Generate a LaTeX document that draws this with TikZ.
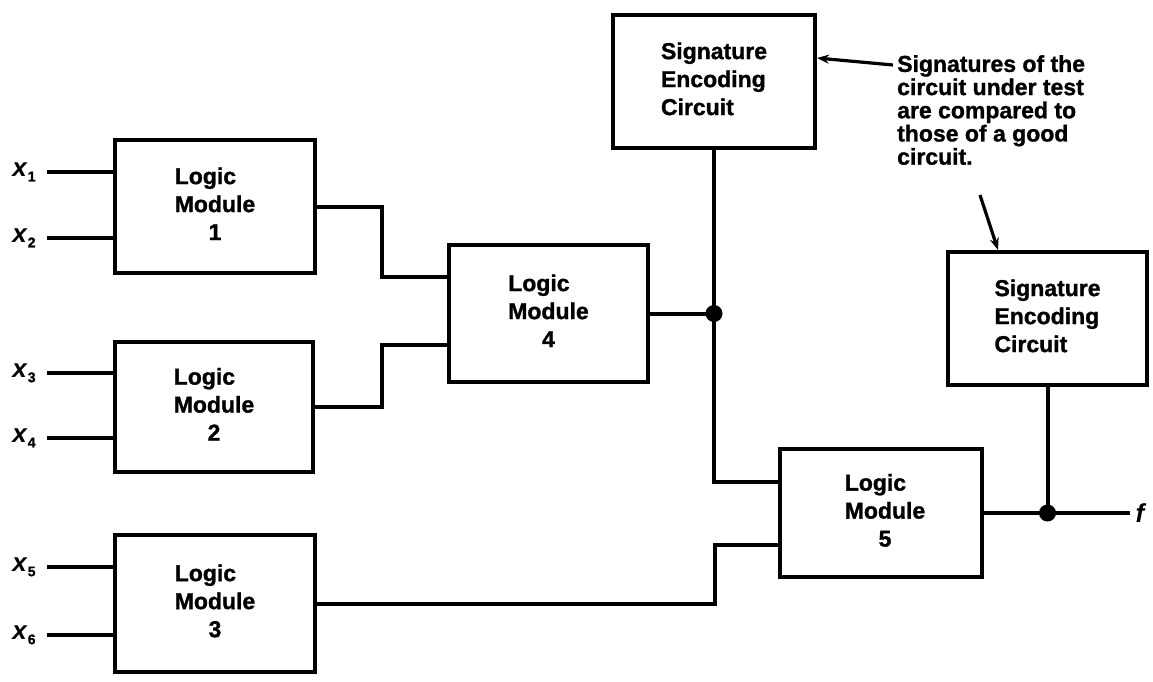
\documentclass[tikz,border=0pt]{standalone}
\usepackage{fontspec}
\setmainfont{Liberation Sans}[BoldFeatures={FakeBold=1.2}]
\usetikzlibrary{arrows.meta}
\newcommand\lmtext[1]{\begin{tabular}{@{}l@{}}Logic\\Module\\\multicolumn{1}{@{}c@{}}{#1}\end{tabular}}
\newcommand\sectext{\begin{tabular}{@{}l@{}}Signature\\Encoding\\Circuit\end{tabular}}
\newcommand\xin[1]{\textit{x}\raisebox{-0.35ex}{\fontsize{14}{14}\selectfont #1}}
\begin{document}
\begin{tikzpicture}[x=1pt,y=-1pt,
  blk/.style={draw,line width=4pt,inner sep=0pt,align=center,
    font=\fontsize{23}{28}\selectfont\bfseries},
  wire/.style={line width=4pt},
  arr/.style={line width=3.2pt,-{Stealth[length=12pt,width=9pt]}},
  lbl/.style={inner sep=0pt,font=\fontsize{26}{26}\selectfont\bfseries},
  note/.style={inner sep=0pt,align=left,font=\fontsize{23}{23.2}\selectfont\bfseries}]
\useasboundingbox (0,0) rectangle (1153,681);
\fill[white] (0,0) rectangle (1153,681);
% boxes
\node[blk,minimum width=200pt,minimum height=133pt] (lm1) at (215,206.5) {\lmtext{1}};
\node[blk,minimum width=198pt,minimum height=130pt] (lm2) at (214,407) {\lmtext{2}};
\node[blk,minimum width=200pt,minimum height=137pt] (lm3) at (215,603.5) {\lmtext{3}};
\node[blk,minimum width=199pt,minimum height=137pt] (lm4) at (548.5,313.5) {\lmtext{4}};
\node[blk,minimum width=202pt,minimum height=128pt] (lm5) at (881,513) {\hspace*{8pt}\lmtext{5}};
\node[blk,minimum width=202pt,minimum height=133pt] (sec1) at (714,81.5) {\sectext};
\node[blk,minimum width=199pt,minimum height=133pt] (sec2) at (1047.5,318.5) {\sectext};
% inputs
\foreach \i/\y/\b in {1/172/lm1,2/238/lm1,3/373/lm2,4/438/lm2,5/567/lm3,6/635/lm3}{
  \node[lbl] (lx\i) at (24,\y) {\xin{\i}};
  \coordinate (in\i) at (47,\y);
  \draw[wire] (in\i) -- (in\i -| \b.west);
}
% connections
\draw[wire] (lm1.east) -- ++(65,0) |- ([yshift=36.5pt]lm4.west);
\draw[wire] (lm2.east) -- ++(67,0) |- ([yshift=-31.5pt]lm4.west);
\coordinate (j1) at (sec1.south |- lm4.east);
\draw[wire] (lm4.east) -- (j1);
\draw[wire] (sec1.south) -- (j1) |- ([yshift=31pt]lm5.west);
\draw[wire] (lm3.east) -- ++(398,0) |- ([yshift=-32pt]lm5.west);
\coordinate (j2) at (sec2.south |- lm5.east);
\coordinate (fend) at (1130,513);
\draw[wire] (lm5.east) -- (j2) -- (fend);
\draw[wire] (sec2.south) -- (j2);
\fill (j1) circle (8.5pt);
\fill (j2) circle (8.5pt);
\node[lbl] (f) at (1141,513) {\textit{f}};
% annotation
\node[note,anchor=north west] (note) at (897,55) {Signatures of the\\circuit under test\\are compared to\\those of a good\\circuit.};
\coordinate (a1) at (893,65);
\coordinate (a2) at (980,195);
\draw[arr] (a1) -- ([yshift=23.5pt]sec1.east);
\draw[arr] (a2) -- ([xshift=-49.5pt]sec2.north);
\end{tikzpicture}
\end{document}
